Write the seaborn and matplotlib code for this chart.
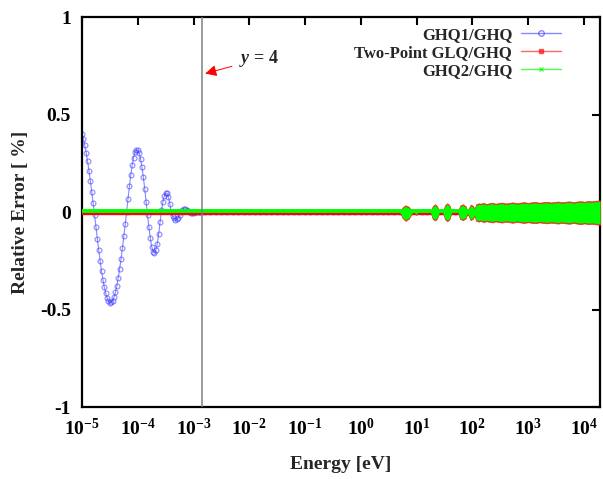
import numpy as np
import seaborn as sns
import matplotlib
matplotlib.use('Agg')
from matplotlib import pyplot as plt
from matplotlib.lines import Line2D
from matplotlib.ticker import NullLocator

#%%
# GHQ1/GHQ relative error [%], read on a log10(E) grid from -5 to -2.85 (step 0.025)
ghq1_logE_start, ghq1_logE_stop = -5.0, -2.85
ghq1_values = [
    0.400, 0.374, 0.342, 0.304, 0.260, 0.212, 0.159, 0.104, 0.046,
    -0.013, -0.075, -0.137, -0.195, -0.250, -0.301, -0.346, -0.385, -0.417,
    -0.441, -0.457, -0.464, -0.463, -0.454, -0.436, -0.411, -0.378, -0.338,
    -0.291, -0.240, -0.184, -0.124, -0.063, 0.000,
    0.068, 0.132, 0.190, 0.240, 0.279, 0.306, 0.319, 0.317, 0.302, 0.273,
    0.231, 0.179, 0.119, 0.054,
    -0.013, -0.077, -0.134, -0.177, -0.203, -0.210, -0.195, -0.162, -0.113, -0.052,
    0.009, 0.050, 0.082, 0.098, 0.097, 0.077, 0.042, 0.000,
    -0.018, -0.032, -0.039, -0.038, -0.030, -0.014,
    0.001, 0.009, 0.014, 0.014, 0.010, 0.003,
    -0.002, -0.004, -0.005, -0.004, -0.002, 0.000, 0.001, 0.001, 0.000, 0.000,
]
# GHQ1 stays at zero for the rest of the range
ghq1_tail_logE = (-2.8, 4.29)
ghq1_tail_values = [0.0] * 72

# flat part of Two-Point GLQ/GHQ and GHQ2/GHQ
flat_energy = [1e-5, 1.95e4]
glq_flat = [-0.005, -0.005]
ghq2_flat = [0.003, 0.003]

# envelope of the fast oscillations above ~5 eV
noise_energy = [5.01, 5.62, 6.31, 7.24, 8.51, 9.12, 9.77, 10.7, 17.8, 19.5,
                21.4, 23.4, 25.7, 29.5, 32.4, 35.5, 38.9, 42.7, 55.0, 60.3,
                67.6, 75.9, 81.3, 85.1, 93.3, 102, 110,
                117, 130, 141, 160, 180, 200, 230, 260, 300, 340,
                400, 460, 530, 630, 720, 850, 1000, 1150, 1350, 1600,
                1900, 2200, 2600, 3000, 3500, 4000, 4700, 5500, 6500, 7500,
                8800, 10300, 12000, 14000, 16500, 19500]
ghq2_hi = [0, 0.020, 0.030, 0.022, 0, 0, 0.008, 0, 0, 0.025,
           0.035, 0.025, 0, 0, 0.030, 0.040, 0.030, 0, 0, 0.028,
           0.035, 0.025, 0.005, 0.010, 0.033, 0.028, 0.012,
           0.035, 0.040, 0.038, 0.042, 0.036, 0.040, 0.043, 0.038, 0.041, 0.044,
           0.039, 0.042, 0.045, 0.040, 0.043, 0.046, 0.042, 0.045, 0.047, 0.043,
           0.046, 0.048, 0.044, 0.047, 0.049, 0.045, 0.048, 0.050, 0.046, 0.049,
           0.051, 0.048, 0.052, 0.050, 0.053, 0.055]
ghq2_lo = [0, -0.025, -0.040, -0.030, 0, 0, -0.010, 0, 0, -0.030,
           -0.038, -0.028, 0, 0, -0.032, -0.042, -0.032, 0, 0, -0.030,
           -0.036, -0.028, -0.006, -0.012, -0.036, -0.030, -0.014,
           -0.040, -0.044, -0.041, -0.046, -0.042, -0.045, -0.048, -0.043, -0.046, -0.049,
           -0.044, -0.047, -0.050, -0.045, -0.048, -0.051, -0.047, -0.050, -0.052, -0.048,
           -0.051, -0.053, -0.049, -0.052, -0.054, -0.050, -0.053, -0.055, -0.051, -0.054,
           -0.057, -0.053, -0.057, -0.055, -0.058, -0.060]
glq_hi = [0, 0.024, 0.035, 0.027, 0, 0, 0.012, 0, 0, 0.030,
          0.040, 0.030, 0, 0, 0.035, 0.045, 0.035, 0, 0, 0.033,
          0.040, 0.030, 0.010, 0.015, 0.038, 0.033, 0.017,
          0.040, 0.045, 0.043, 0.047, 0.041, 0.045, 0.048, 0.043, 0.046, 0.049,
          0.044, 0.047, 0.050, 0.045, 0.048, 0.051, 0.047, 0.050, 0.052, 0.048,
          0.051, 0.053, 0.049, 0.052, 0.054, 0.050, 0.053, 0.055, 0.051, 0.054,
          0.056, 0.053, 0.057, 0.055, 0.058, 0.060]
glq_lo = [0, -0.030, -0.045, -0.035, 0, 0, -0.014, 0, 0, -0.035,
          -0.043, -0.033, 0, 0, -0.037, -0.047, -0.037, 0, 0, -0.035,
          -0.041, -0.033, -0.011, -0.017, -0.041, -0.035, -0.019,
          -0.045, -0.049, -0.046, -0.051, -0.047, -0.050, -0.053, -0.048, -0.051, -0.054,
          -0.049, -0.052, -0.055, -0.050, -0.053, -0.056, -0.052, -0.055, -0.057, -0.053,
          -0.056, -0.058, -0.054, -0.057, -0.059, -0.055, -0.058, -0.060, -0.056, -0.059,
          -0.062, -0.058, -0.062, -0.060, -0.063, -0.065]

vline_energy = 1.4e-3
xtick_values = [1e-5, 1e-4, 1e-3, 1e-2, 1e-1, 1e0, 1e1, 1e2, 1e3, 1e4]
xtick_labels = [r'$\mathbf{10^{-5}}$', r'$\mathbf{10^{-4}}$', r'$\mathbf{10^{-3}}$',
                r'$\mathbf{10^{-2}}$', r'$\mathbf{10^{-1}}$', r'$\mathbf{10^{0}}$',
                r'$\mathbf{10^{1}}$', r'$\mathbf{10^{2}}$', r'$\mathbf{10^{3}}$',
                r'$\mathbf{10^{4}}$']
ytick_values = [-1, -0.5, 0, 0.5, 1]
ytick_labels = ['-1', '-0.5', '0', '0.5', '1']

#%%
sns.set_theme(style='white')
plt.rcParams['font.family'] = ['Liberation Serif', 'DejaVu Serif']
plt.rcParams['font.weight'] = 'bold'
plt.rcParams['axes.unicode_minus'] = False
plt.rcParams['mathtext.fontset'] = 'custom'
plt.rcParams['mathtext.rm'] = 'Liberation Serif:bold'
plt.rcParams['mathtext.bf'] = 'Liberation Serif:bold'
plt.rcParams['mathtext.it'] = 'Liberation Serif:italic:bold'

fig, ax = plt.subplots(figsize=(6.03, 4.79), dpi=100)
fig.subplots_adjust(left=0.136, right=0.995, bottom=0.150, top=0.9645)

ghq1_energy = np.logspace(ghq1_logE_start, ghq1_logE_stop, len(ghq1_values))
ghq1_tail_energy = np.logspace(ghq1_tail_logE[0], ghq1_tail_logE[1], len(ghq1_tail_values))

blue = '#3a3aff'
# GHQ1/GHQ
for xs, ys in [(ghq1_energy, ghq1_values), (ghq1_tail_energy, ghq1_tail_values)]:
    sns.lineplot(x=xs, y=ys, ax=ax, color=blue, alpha=0.6, lw=0.8,
                 marker='o', markersize=3.5, markerfacecolor='none',
                 markeredgecolor=blue, markeredgewidth=0.8, zorder=2)

# Two-Point GLQ/GHQ
sns.lineplot(x=flat_energy, y=glq_flat, ax=ax, color='red', lw=2.4, zorder=3)
ax.fill_between(noise_energy, glq_lo, glq_hi, color='#e8301c', lw=0.5, zorder=3)
# GHQ2/GHQ
sns.lineplot(x=flat_energy, y=ghq2_flat, ax=ax, color='#00ff00', lw=2.8, zorder=4)
ax.fill_between(noise_energy, ghq2_lo, ghq2_hi, color='#00ff00', lw=0, zorder=4)

ax.axvline(vline_energy, color='#7f7f7f', lw=1.1, zorder=5)
ax.annotate(r'$y$ = 4', xy=(1.62e-3, 0.71), xytext=(6.6e-3, 0.785),
            fontsize=13, fontweight='bold', ha='left', va='center',
            arrowprops=dict(arrowstyle='-|>', color='red', lw=0.7,
                            mutation_scale=17, shrinkA=3, shrinkB=0))

ax.set_xscale('log')
ax.set_xlim(1e-5, 1.95e4)
ax.set_ylim(-1, 1)
ax.set_xticks(xtick_values)
ax.set_xticklabels(xtick_labels)
ax.xaxis.set_minor_locator(NullLocator())
ax.set_yticks(ytick_values)
ax.set_yticklabels(ytick_labels)
ax.tick_params(which='major', direction='in', length=6, width=1.5,
               top=True, right=True, labelsize=14, pad=8, colors='black')
for s in ax.spines.values():
    s.set_linewidth(1.6)
    s.set_color('black')

ax.set_xlabel('Energy [eV]', fontsize=14, fontweight='bold', labelpad=12)
ax.set_ylabel('Relative Error [ %]', fontsize=14, fontweight='bold', labelpad=8)

handles = [
    Line2D([], [], color=blue, alpha=0.6, lw=1, marker='o', markersize=4,
           markerfacecolor='none', markeredgecolor=blue),
    Line2D([], [], color='red', alpha=0.6, lw=1, marker='s', markersize=3.5),
    Line2D([], [], color='#00ff00', alpha=0.7, lw=1, marker='x', markersize=3.5),
]
labels = ['GHQ1/GHQ', 'Two-Point GLQ/GHQ', 'GHQ2/GHQ']
ax.legend(handles, labels, loc='upper right', bbox_to_anchor=(0.953, 1.012),
          frameon=False, markerfirst=False, handlelength=2.35, handletextpad=0.55,
          labelspacing=0.1, prop={'size': 12, 'weight': 'bold'})

plt.savefig('out.png', dpi=100)
